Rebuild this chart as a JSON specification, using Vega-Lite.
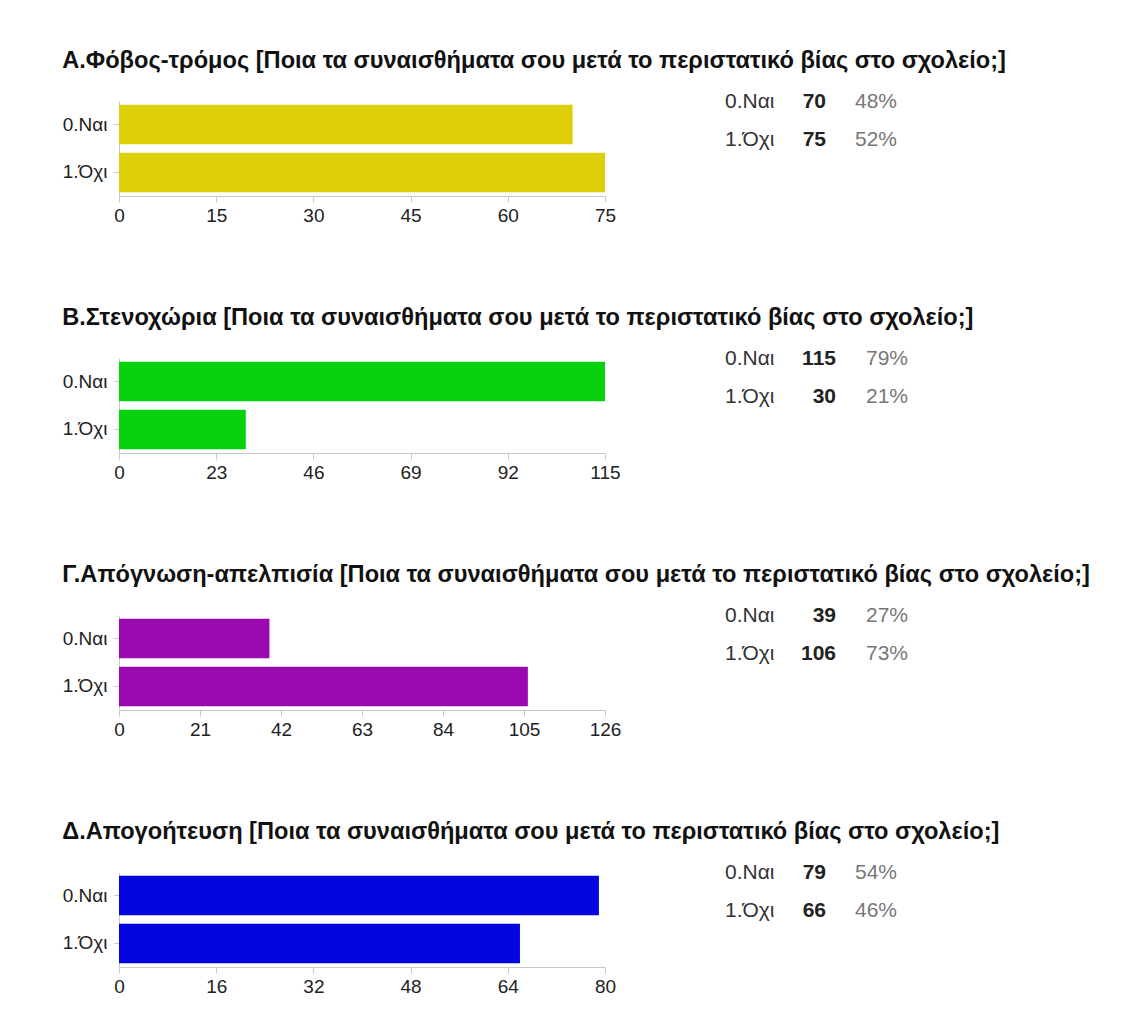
{
  "$schema": "https://vega.github.io/schema/vega-lite/v6.json",
  "background": "white",
  "padding": {"left": 62, "top": 49, "right": 5, "bottom": 5},
  "datasets": {
    "d": [
      {"q": "A", "option": "0.Ναι", "count": 70, "pct": "48%"},
      {"q": "A", "option": "1.Όχι", "count": 75, "pct": "52%"},
      {"q": "B", "option": "0.Ναι", "count": 115, "pct": "79%"},
      {"q": "B", "option": "1.Όχι", "count": 30, "pct": "21%"},
      {"q": "C", "option": "0.Ναι", "count": 39, "pct": "27%"},
      {"q": "C", "option": "1.Όχι", "count": 106, "pct": "73%"},
      {"q": "D", "option": "0.Ναι", "count": 79, "pct": "54%"},
      {"q": "D", "option": "1.Όχι", "count": 66, "pct": "46%"}
    ]
  },
  "bounds": "flush",
  "spacing": 257,
  "vconcat": [
    {
      "title": {"text": "Α.Φόβος-τρόμος [Ποια τα συναισθήματα σου μετά το περιστατικό βίας στο σχολείο;]"},
      "bounds": "flush",
      "spacing": 120,
      "hconcat": [
        {
          "data": {"name": "d"},
          "transform": [{"filter": "datum.q == 'A'"}],
          "width": 486, "height": 95,
          "mark": {"type": "bar", "color": "#dece06"},
          "encoding": {
            "y": {"field": "option", "type": "nominal", "sort": null, "title": null, "scale": {"paddingInner": 0.18, "paddingOuter": 0.08}},
            "x": {"field": "count", "type": "quantitative", "title": null, "scale": {"domain": [0, 75], "nice": false}, "axis": {"values": [0, 15, 30, 45, 60, 75]}}
          }
        },
        {
          "data": {"name": "d"},
          "transform": [{"filter": "datum.q == 'A'"}],
          "width": 141, "height": 38,
          "encoding": {"y": {"field": "option", "type": "nominal", "sort": null, "scale": {"type": "point", "padding": 0}, "axis": null}},
          "layer": [
            {"mark": {"type": "text", "align": "left", "baseline": "alphabetic", "dy": 7, "fontSize": 21, "color": "#333"},
             "encoding": {"x": {"datum": "label", "type": "nominal", "scale": {"type": "point", "domain": ["label", "count", "pct"], "range": [0, 130], "padding": 0}, "axis": null}, "text": {"field": "option"}}},
            {"mark": {"type": "text", "align": "right", "baseline": "alphabetic", "dy": 7, "dx": 36, "fontSize": 21, "fontWeight": "bold", "color": "#222"},
             "encoding": {"x": {"datum": "count", "type": "nominal"}, "text": {"field": "count"}}},
            {"mark": {"type": "text", "align": "left", "baseline": "alphabetic", "dy": 7, "dx": 0, "fontSize": 21, "color": "#777"},
             "encoding": {"x": {"datum": "pct", "type": "nominal"}, "text": {"field": "pct"}}}
          ]
        }
      ]
    },
    {
      "title": {"text": "Β.Στενοχώρια [Ποια τα συναισθήματα σου μετά το περιστατικό βίας στο σχολείο;]"},
      "bounds": "flush",
      "spacing": 120,
      "hconcat": [
        {
          "data": {"name": "d"},
          "transform": [{"filter": "datum.q == 'B'"}],
          "width": 486, "height": 95,
          "mark": {"type": "bar", "color": "#06d20c"},
          "encoding": {
            "y": {"field": "option", "type": "nominal", "sort": null, "title": null, "scale": {"paddingInner": 0.18, "paddingOuter": 0.08}},
            "x": {"field": "count", "type": "quantitative", "title": null, "scale": {"domain": [0, 115], "nice": false}, "axis": {"values": [0, 23, 46, 69, 92, 115]}}
          }
        },
        {
          "data": {"name": "d"},
          "transform": [{"filter": "datum.q == 'B'"}],
          "width": 141, "height": 38,
          "encoding": {"y": {"field": "option", "type": "nominal", "sort": null, "scale": {"type": "point", "padding": 0}, "axis": null}},
          "layer": [
            {"mark": {"type": "text", "align": "left", "baseline": "alphabetic", "dy": 7, "fontSize": 21, "color": "#333"},
             "encoding": {"x": {"datum": "label", "type": "nominal", "scale": {"type": "point", "domain": ["label", "count", "pct"], "range": [0, 130], "padding": 0}, "axis": null}, "text": {"field": "option"}}},
            {"mark": {"type": "text", "align": "right", "baseline": "alphabetic", "dy": 7, "dx": 46, "fontSize": 21, "fontWeight": "bold", "color": "#222"},
             "encoding": {"x": {"datum": "count", "type": "nominal"}, "text": {"field": "count"}}},
            {"mark": {"type": "text", "align": "left", "baseline": "alphabetic", "dy": 7, "dx": 11, "fontSize": 21, "color": "#777"},
             "encoding": {"x": {"datum": "pct", "type": "nominal"}, "text": {"field": "pct"}}}
          ]
        }
      ]
    },
    {
      "title": {"text": "Γ.Απόγνωση-απελπισία [Ποια τα συναισθήματα σου μετά το περιστατικό βίας στο σχολείο;]"},
      "bounds": "flush",
      "spacing": 120,
      "hconcat": [
        {
          "data": {"name": "d"},
          "transform": [{"filter": "datum.q == 'C'"}],
          "width": 486, "height": 95,
          "mark": {"type": "bar", "color": "#9a08b0"},
          "encoding": {
            "y": {"field": "option", "type": "nominal", "sort": null, "title": null, "scale": {"paddingInner": 0.18, "paddingOuter": 0.08}},
            "x": {"field": "count", "type": "quantitative", "title": null, "scale": {"domain": [0, 126], "nice": false}, "axis": {"values": [0, 21, 42, 63, 84, 105, 126]}}
          }
        },
        {
          "data": {"name": "d"},
          "transform": [{"filter": "datum.q == 'C'"}],
          "width": 141, "height": 38,
          "encoding": {"y": {"field": "option", "type": "nominal", "sort": null, "scale": {"type": "point", "padding": 0}, "axis": null}},
          "layer": [
            {"mark": {"type": "text", "align": "left", "baseline": "alphabetic", "dy": 7, "fontSize": 21, "color": "#333"},
             "encoding": {"x": {"datum": "label", "type": "nominal", "scale": {"type": "point", "domain": ["label", "count", "pct"], "range": [0, 130], "padding": 0}, "axis": null}, "text": {"field": "option"}}},
            {"mark": {"type": "text", "align": "right", "baseline": "alphabetic", "dy": 7, "dx": 46, "fontSize": 21, "fontWeight": "bold", "color": "#222"},
             "encoding": {"x": {"datum": "count", "type": "nominal"}, "text": {"field": "count"}}},
            {"mark": {"type": "text", "align": "left", "baseline": "alphabetic", "dy": 7, "dx": 11, "fontSize": 21, "color": "#777"},
             "encoding": {"x": {"datum": "pct", "type": "nominal"}, "text": {"field": "pct"}}}
          ]
        }
      ]
    },
    {
      "title": {"text": "Δ.Απογοήτευση [Ποια τα συναισθήματα σου μετά το περιστατικό βίας στο σχολείο;]"},
      "bounds": "flush",
      "spacing": 120,
      "hconcat": [
        {
          "data": {"name": "d"},
          "transform": [{"filter": "datum.q == 'D'"}],
          "width": 486, "height": 95,
          "mark": {"type": "bar", "color": "#0505de"},
          "encoding": {
            "y": {"field": "option", "type": "nominal", "sort": null, "title": null, "scale": {"paddingInner": 0.18, "paddingOuter": 0.08}},
            "x": {"field": "count", "type": "quantitative", "title": null, "scale": {"domain": [0, 80], "nice": false}, "axis": {"values": [0, 16, 32, 48, 64, 80]}}
          }
        },
        {
          "data": {"name": "d"},
          "transform": [{"filter": "datum.q == 'D'"}],
          "width": 141, "height": 38,
          "encoding": {"y": {"field": "option", "type": "nominal", "sort": null, "scale": {"type": "point", "padding": 0}, "axis": null}},
          "layer": [
            {"mark": {"type": "text", "align": "left", "baseline": "alphabetic", "dy": 7, "fontSize": 21, "color": "#333"},
             "encoding": {"x": {"datum": "label", "type": "nominal", "scale": {"type": "point", "domain": ["label", "count", "pct"], "range": [0, 130], "padding": 0}, "axis": null}, "text": {"field": "option"}}},
            {"mark": {"type": "text", "align": "right", "baseline": "alphabetic", "dy": 7, "dx": 36, "fontSize": 21, "fontWeight": "bold", "color": "#222"},
             "encoding": {"x": {"datum": "count", "type": "nominal"}, "text": {"field": "count"}}},
            {"mark": {"type": "text", "align": "left", "baseline": "alphabetic", "dy": 7, "dx": 0, "fontSize": 21, "color": "#777"},
             "encoding": {"x": {"datum": "pct", "type": "nominal"}, "text": {"field": "pct"}}}
          ]
        }
      ]
    }
  ],
  "config": {
    "font": "Liberation Sans",
    "view": {"stroke": null},
    "axis": {"labelFont": "Liberation Sans", "labelFontSize": 19, "labelColor": "#222", "domainColor": "#c8c8c8", "tickColor": "#c8c8c8", "tickSize": 5, "grid": false, "labelFlush": false},
    "axisX": {"labelPadding": 4, "tickSize": 6},
    "axisY": {"labelPadding": 7},
    "text": {"font": "Liberation Sans"},
    "title": {"anchor": "start", "font": "Liberation Sans", "fontSize": 23.6, "fontWeight": "bold", "color": "#111", "offset": 18, "baseline": "alphabetic"}
  }
}
